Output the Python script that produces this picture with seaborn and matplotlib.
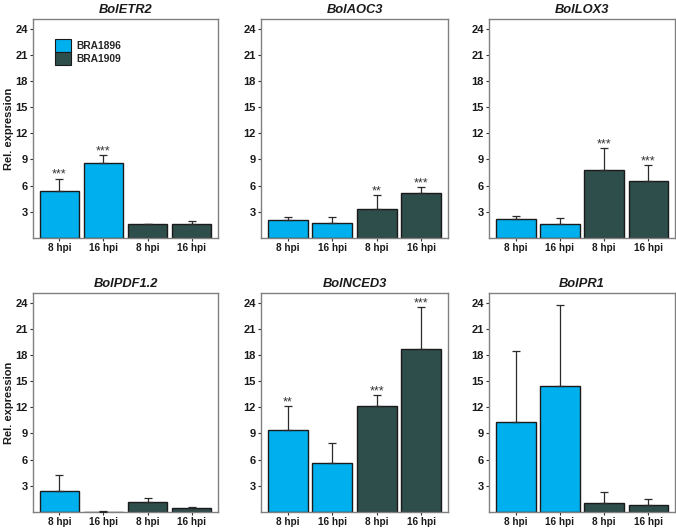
import numpy as np
import pandas as pd
import matplotlib
matplotlib.use("Agg")
import matplotlib.pyplot as plt
import seaborn as sns
from matplotlib.patches import Patch

genes = ["BolETR2", "BolAOC3", "BolLOX3", "BolPDF1.2", "BolNCED3", "BolPR1"]
genotypes = ["BRA1896", "BRA1896", "BRA1909", "BRA1909"]
timepoints = ["8 hpi", "16 hpi", "8 hpi", "16 hpi"]

means = {
    "BolETR2":   [5.4, 8.6, 1.6, 1.6],
    "BolAOC3":   [2.05, 1.75, 3.35, 5.2],
    "BolLOX3":   [2.2, 1.65, 7.8, 6.55],
    "BolPDF1.2": [2.4, 0.05, 1.13, 0.48],
    "BolNCED3":  [9.4, 5.67, 12.1, 18.65],
    "BolPR1":    [10.35, 14.45, 0.98, 0.82],
}
errors = {
    "BolETR2":   [1.4, 0.9, 0.05, 0.4],
    "BolAOC3":   [0.35, 0.6, 1.55, 0.6],
    "BolLOX3":   [0.3, 0.65, 2.5, 1.8],
    "BolPDF1.2": [1.85, 0.03, 0.5, 0.12],
    "BolNCED3":  [2.7, 2.23, 1.3, 4.8],
    "BolPR1":    [8.15, 9.25, 1.26, 0.68],
}
signif = {
    "BolETR2":   ["***", "***", "", ""],
    "BolAOC3":   ["", "", "**", "***"],
    "BolLOX3":   ["", "", "***", "***"],
    "BolPDF1.2": ["", "", "", ""],
    "BolNCED3":  ["**", "", "***", "***"],
    "BolPR1":    ["", "", "", ""],
}
yticks = [3, 6, 9, 12, 15, 18, 21, 24]
colors = {"BRA1896": "#00B0EE", "BRA1909": "#2E4E4C"}

sns.set_theme(style="white")
plt.rcParams['font.family'] = ['Liberation Sans', 'DejaVu Sans']

W, H = 676, 528
fig = plt.figure(figsize=(W / 100, H / 100), dpi=100)

lefts = [33, 261, 489]
rights = [218, 448, 675]
rows = [(19, 238), (293, 512)]

cond = ["c1", "c2", "c3", "c4"]

for i, g in enumerate(genes):
    r, c = divmod(i, 3)
    top, bot = rows[r]
    l, rr = lefts[c], rights[c]
    ax = fig.add_axes([l / W, 1 - bot / H, (rr - l) / W, (bot - top) / H])
    df = pd.DataFrame({"cond": cond, "val": means[g], "geno": genotypes})
    sns.barplot(data=df, x="cond", y="val", hue="geno", palette=colors,
                dodge=False, width=0.9, edgecolor="#1a1a1a", linewidth=1.0,
                saturation=1, errorbar=None, legend=False, ax=ax)
    xs = np.arange(4)
    ax.errorbar(xs, means[g], yerr=[np.zeros(4), errors[g]], fmt="none",
                ecolor="#2a2a2a", elinewidth=0.9, capsize=3.2, capthick=0.9, zorder=5)
    for x, m, e, s in zip(xs, means[g], errors[g], signif[g]):
        if s:
            ax.text(x, m + e + 0.1, s, ha="center", va="baseline", fontsize=9,
                    color="#333333")
    ax.set_xlim(-0.6, 3.6)
    ax.set_ylim(0, 25.1)
    ax.set_yticks(yticks)
    ax.set_yticklabels([str(t) for t in yticks], fontsize=8, fontweight="bold",
                       color="#1a1a1a")
    ax.set_xticks(xs)
    ax.set_xticklabels(timepoints, fontsize=7.2, fontweight="bold", color="#1a1a1a")
    ax.tick_params(axis="both", which="both", length=2.5, width=0.8,
                   color="#333333", pad=1.2, bottom=True, left=True)
    ax.set_xlabel("")
    if c == 0:
        ax.set_ylabel("Rel. expression", fontsize=8, fontweight="bold", color="#1a1a1a")
        ax.yaxis.set_label_coords(-19 / (rr - l), 0.5)
    else:
        ax.set_ylabel("")
    ax.set_title(g, fontsize=9.3, fontweight="bold", fontstyle="italic", pad=4,
                 color="#1a1a1a")
    for sp in ax.spines.values():
        sp.set_color("#808080")
        sp.set_linewidth(1.0)
    if i == 0:
        handles = [Patch(facecolor=colors["BRA1896"], edgecolor="#1a1a1a", linewidth=0.8),
                   Patch(facecolor=colors["BRA1909"], edgecolor="#1a1a1a", linewidth=0.8)]
        leg = ax.legend(handles, ["BRA1896", "BRA1909"], loc="upper left",
                        bbox_to_anchor=(0.119, 0.909), frameon=False,
                        prop={"weight": "bold", "size": 7.4},
                        handlelength=1.56, handleheight=1.56, labelspacing=0.0,
                        handletextpad=0.55, borderpad=0, borderaxespad=0)

fig.savefig("out.png", dpi=100)
